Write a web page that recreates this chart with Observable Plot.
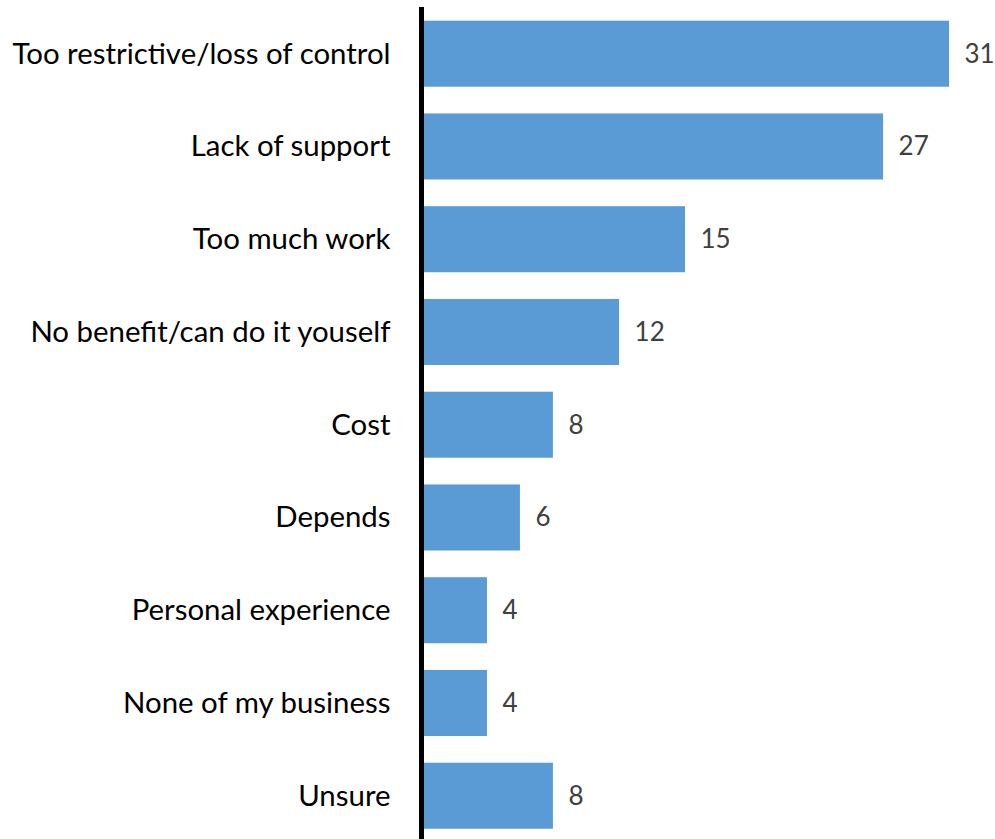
<!DOCTYPE html>
<html>
<head>
<meta charset="utf-8">
<script src="https://cdn.jsdelivr.net/npm/d3@7"></script>
<script src="https://cdn.jsdelivr.net/npm/@observablehq/plot@0.6"></script>
<style>
  html, body { margin: 0; padding: 0; background: #fff; }
  #chart { width: 995px; height: 839px; }
</style>
</head>
<body>
<div id="chart"></div>
<script>
const categories = [
  "Too restrictive/loss of control",
  "Lack of support",
  "Too much work",
  "No benefit/can do it youself",
  "Cost",
  "Depends",
  "Personal experience",
  "None of my business",
  "Unsure"
];
// bar lengths
const values = [31.06, 27.18, 15.53, 11.65, 7.76, 5.82, 3.88, 3.88, 7.76];
// numbers printed next to the bars
const valueLabels = ["31", "27", "15", "12", "8", "6", "4", "4", "8"];

const data = categories.map((c, i) => ({category: c, value: values[i], label: valueLabels[i]}));

const chart = Plot.plot({
  width: 995,
  height: 839,
  marginLeft: 421,
  marginRight: 0,
  marginTop: 7,
  marginBottom: 0,
  style: {fontFamily: "Lato, 'Open Sans', sans-serif", background: "#fff", color: "#000"},
  x: {domain: [0, 574 / 17], axis: null},
  y: {domain: categories, range: [7.34, 842.1], paddingInner: 0.288, paddingOuter: 0.144, round: false, axis: null},
  marks: [
    Plot.barX(data, {x: "value", y: "category", fill: "#5B9BD5"}),
    Plot.text(data, {x: "value", y: "category", text: "label", dx: 15, textAnchor: "start", fill: "#404040", fontSize: 26}),
    Plot.axisY({tickSize: 0, tickPadding: 31, fontSize: 29.4, label: null, fill: "#000"}),
    Plot.ruleX([0], {stroke: "#000", strokeWidth: 5})
  ]
});
document.getElementById("chart").appendChild(chart);
</script>
</body>
</html>
